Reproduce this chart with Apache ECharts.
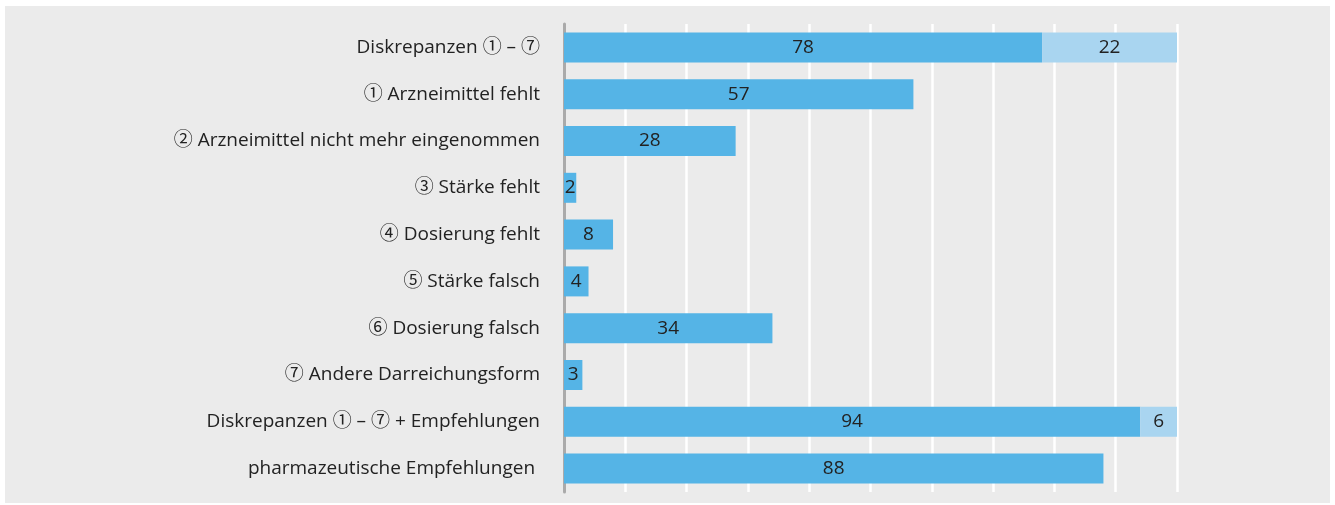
<!DOCTYPE html>
<html>
<head>
<meta charset="utf-8">
<title>Diskrepanzen</title>
<style>
  html, body { margin: 0; padding: 0; background: #ffffff; }
  #main { width: 1335px; height: 505px; }
</style>
</head>
<body>
<script src="https://cdn.jsdelivr.net/npm/echarts@6/dist/echarts.min.js"></script>
<div id="main"></div>
<script type="text/javascript">
    // categories from top to bottom
    var categories = [
        'Diskrepanzen ① – ⑦',
        '① Arzneimittel fehlt',
        '② Arzneimittel nicht mehr eingenommen',
        '③ Stärke fehlt',
        '④ Dosierung fehlt',
        '⑤ Stärke falsch',
        '⑥ Dosierung falsch',
        '⑦ Andere Darreichungsform',
        'Diskrepanzen ① – ⑦ + Empfehlungen',
        'pharmazeutische Empfehlungen '
    ];
    var mainValues = [78, 57, 28, 2, 8, 4, 34, 3, 94, 88];
    var restValues = [22, null, null, null, null, null, null, null, 6, null];

    var myChart = echarts.init(document.getElementById('main'));

    var labelStyle = {
        show: true,
        position: 'inside',
        color: '#222222',
        fontSize: 19,
        fontFamily: '"Open Sans", "Noto Sans CJK SC"'
    };

    var option = {
        animation: false,
        graphic: [
            {
                type: 'rect',
                z: -10,
                shape: { x: 5, y: 6, width: 1325, height: 497 },
                style: { fill: '#ebebeb' }
            }
        ],
        grid: {
            left: 564,
            right: 158,
            top: 24,
            bottom: 13
        },
        xAxis: {
            type: 'value',
            min: 0,
            max: 100,
            interval: 10,
            axisLabel: { show: false },
            axisTick: { show: false },
            axisLine: { show: false },
            splitLine: { show: true, lineStyle: { color: '#ffffff', width: 2.5 } }
        },
        yAxis: {
            type: 'category',
            inverse: true,
            data: categories,
            axisTick: { show: false },
            axisLine: { show: true, lineStyle: { color: '#aaaaaa', width: 3 } },
            axisLabel: {
                margin: 24,
                color: '#222222',
                fontSize: 19,
                fontFamily: '"Open Sans", "Noto Sans CJK SC"'
            }
        },
        series: [
            {
                name: 'main',
                type: 'bar',
                stack: 'total',
                barWidth: 30,
                data: mainValues,
                itemStyle: { color: '#55b4e6' },
                label: labelStyle
            },
            {
                name: 'rest',
                type: 'bar',
                stack: 'total',
                barWidth: 30,
                data: restValues,
                itemStyle: { color: '#a9d5f0' },
                label: labelStyle
            }
        ]
    };

    myChart.setOption(option);
</script>
</body>
</html>
